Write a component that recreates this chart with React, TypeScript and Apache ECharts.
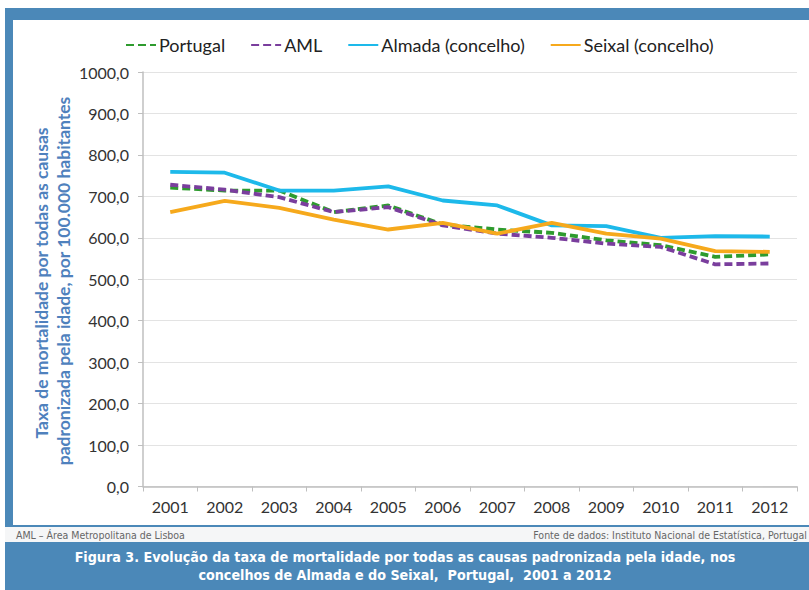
import React, { useEffect, useRef } from "react";
import * as echarts from "echarts";

const years = ["2001","2002","2003","2004","2005","2006","2007","2008","2009","2010","2011","2012"];
const portugal = [721, 714, 714, 662, 678, 632, 620, 612, 594, 582, 554, 560];
const aml = [728, 716, 698, 662, 674, 630, 610, 600, 586, 578, 536, 538];
const almada = [759, 757, 714, 714, 724, 690, 678, 630, 628, 600, 604, 603];
const seixal = [662, 689, 672, 644, 620, 636, 610, 636, 610, 598, 568, 566];
const yTicks = { min: 0, max: 1000, interval: 100 };

const BLUE = "#4B88B8";
const FONT = "Lato, 'Open Sans', sans-serif";
const CAP = "'DejaVu Sans Condensed', 'DejaVu Sans', sans-serif";

export default function App() {
  const ref = useRef<HTMLDivElement>(null);
  useEffect(() => {
    if (!ref.current) return;
    const chart = echarts.init(ref.current, null, { renderer: "svg" });
    const mk = (name: string, data: number[], color: string, dashed: boolean) => ({
      name,
      type: "line",
      data,
      symbol: "none",
      lineStyle: { color, width: 3.8, type: dashed ? [8, 4] : "solid" },
      itemStyle: { color },
    });
    chart.setOption({
      animation: false,
      backgroundColor: "#ffffff",
      textStyle: { fontFamily: FONT },
      legend: {
        top: 31,
        left: 120,
        itemWidth: 30,
        itemHeight: 14,
        itemGap: 25,
        itemStyle: { opacity: 0 },
        textStyle: { fontSize: 18, color: "#222", fontFamily: FONT, padding: [0, 0, 0, -2] },
        data: ["Portugal", "AML", "Almada (concelho)", "Seixal (concelho)"],
      },
      grid: { left: 143, right: 12, top: 72, bottom: 103.5, containLabel: false },
      xAxis: {
        type: "category",
        data: years,
        boundaryGap: true,
        axisLine: { lineStyle: { color: "#BFBFBF", width: 1.5 } },
        axisTick: { show: true, length: 5, lineStyle: { color: "#BFBFBF" } },
        axisLabel: { fontSize: 16, color: "#333", margin: 12, fontFamily: FONT },
      },
      yAxis: {
        type: "value",
        min: yTicks.min,
        max: yTicks.max,
        interval: yTicks.interval,
        axisLine: { show: true, lineStyle: { color: "#BFBFBF", width: 1.5 } },
        axisTick: { show: true, length: 5, lineStyle: { color: "#BFBFBF" } },
        splitLine: { lineStyle: { color: "#E3E3E3", width: 1 } },
        axisLabel: {
          fontSize: 16,
          color: "#333",
          margin: 14,
          fontFamily: FONT,
          formatter: (v: number) => v.toFixed(1).replace(".", ","),
        },
      },
      graphic: [
        { type: "rect", silent: true, z: -10, shape: { x: 5, y: 8, width: 804, height: 12 }, style: { fill: BLUE } },
        { type: "rect", silent: true, z: -10, shape: { x: 5, y: 8, width: 8, height: 534 }, style: { fill: BLUE } },
        { type: "rect", silent: true, z: -10, shape: { x: 5, y: 525, width: 804, height: 2 }, style: { fill: BLUE } },
        { type: "rect", silent: true, z: -10, shape: { x: 5, y: 527, width: 804, height: 15 }, style: { fill: "#F5F6F7" } },
        { type: "rect", silent: true, z: -10, shape: { x: 5, y: 542, width: 804, height: 48 }, style: { fill: BLUE } },
        {
          type: "text", x: 41, y: 283, rotation: Math.PI / 2,
          style: { text: "Taxa de mortalidade por todas as causas", fill: "#4F81BD", font: `bold 17.5px ${FONT}`, align: "center", verticalAlign: "middle" },
        },
        {
          type: "text", x: 63, y: 281, rotation: Math.PI / 2,
          style: { text: "padronizada pela idade, por 100.000 habitantes", fill: "#4F81BD", font: `bold 17.5px ${FONT}`, align: "center", verticalAlign: "middle" },
        },
        {
          type: "text", x: 16, y: 535,
          style: { text: "AML – Área Metropolitana de Lisboa", fill: "#666", font: `10.5px ${CAP}`, align: "left", verticalAlign: "middle" },
        },
        {
          type: "text", x: 807, y: 535,
          style: { text: "Fonte de dados: Instituto Nacional de Estatística, Portugal", fill: "#666", font: `10.5px ${CAP}`, align: "right", verticalAlign: "middle" },
        },
        {
          type: "text", x: 405, y: 557,
          style: { text: "Figura 3. Evolução da taxa de mortalidade por todas as causas padronizada pela idade, nos", fill: "#fff", font: `bold 14.2px ${CAP}`, align: "center", verticalAlign: "middle" },
        },
        {
          type: "text", x: 405, y: 575,
          style: { text: "concelhos de Almada e do Seixal,  Portugal,  2001 a 2012", fill: "#fff", font: `bold 14.2px ${CAP}`, align: "center", verticalAlign: "middle" },
        },
      ],
      series: [
        mk("Portugal", portugal, "#2E9B2E", true),
        mk("AML", aml, "#7A3E9D", true),
        mk("Almada (concelho)", almada, "#1DB9EA", false),
        mk("Seixal (concelho)", seixal, "#F6A91C", false),
      ],
    });
    return () => chart.dispose();
  }, []);
  return <div ref={ref} style={{ position: "fixed", left: 0, top: 0, width: 809, height: 590 }} />;
}
